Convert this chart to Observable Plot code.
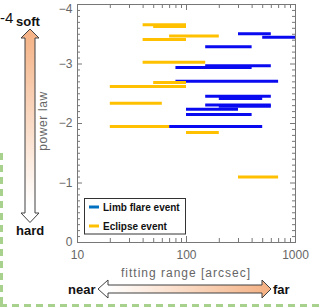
<!DOCTYPE html>
<html><head><meta charset="utf-8">
<script src="https://cdn.jsdelivr.net/npm/d3@7"></script>
<script src="https://cdn.jsdelivr.net/npm/@observablehq/plot@0.6"></script>
<style>html,body{margin:0;padding:0;background:#fff;}</style>
</head><body><div id="chart"></div>
<script>
// Limb flare events (blue)
const limbPower = [-3.51, -3.45, -3.29, -2.97, -2.94, -2.71, -2.46, -2.42, -2.31, -2.29, -2.24, -2.15, -1.95];
const limbFrom  = [300, 500, 150, 150, 80, 80, 150, 200, 150, 200, 100, 100, 70];
const limbTo    = [600, 1000, 400, 600, 400, 700, 600, 500, 600, 600, 300, 400, 500];
// Eclipse events (orange)
const eclipsePower = [-3.66, -3.63, -3.47, -3.41, -3.03, -2.69, -2.62, -2.34, -1.95, -1.85, -1.10];
const eclipseFrom  = [40, 50, 70, 40, 40, 50, 20, 20, 20, 100, 300];
const eclipseTo    = [100, 100, 200, 100, 150, 100, 100, 60, 70, 200, 700];
// ticks
const xTicks = [10, 100, 1000];
const xMinor = [20,30,40,50,60,70,80,90,200,300,400,500,600,700,800,900];
const yTicks = [0, -1, -2, -3, -4];
const yMinor = d3.range(-40, 1).map(i => i / 10).filter(v => !Number.isInteger(v));
const legendLabels = ["Limb flare event", "Eclipse event"];
const legendColors = ["#0070c0", "#ffc000"];

const limb = limbPower.map((p, i) => ({p, lo: limbFrom[i], hi: limbTo[i]}));
const eclipse = eclipsePower.map((p, i) => ({p, lo: eclipseFrom[i], hi: eclipseTo[i]}));

const W = 324, H = 307, mL = 77, mR = 29, mT = 4, mB = 65;
const iw = W - mL - mR, ih = H - mT - mB;
const tickC = "#777";
const fmtY = d => d === 0 ? "0" : "\u2212" + Math.abs(d);

const plot = Plot.plot({
  width: W, height: H, marginLeft: mL, marginRight: mR, marginTop: mT, marginBottom: mB,
  x: {type: "log", domain: [10, 1000]},
  y: {domain: [0, -4]},
  style: {fontFamily: "'Liberation Sans', Arial, sans-serif", fontSize: "12px", background: "#fff", overflow: "visible"},
  marks: [
    Plot.tickY(yTicks, {y: d => d, insetRight: iw - 5, stroke: tickC}),
    Plot.tickY(yMinor, {y: d => d, insetRight: iw - 3, stroke: tickC}),
    Plot.tickY(yTicks, {y: d => d, insetLeft: iw - 5, stroke: tickC}),
    Plot.tickY(yMinor, {y: d => d, insetLeft: iw - 3, stroke: tickC}),
    Plot.tickX(xTicks, {x: d => d, insetTop: ih - 6, stroke: tickC}),
    Plot.tickX(xMinor, {x: d => d, insetTop: ih - 4, stroke: tickC}),
    Plot.tickX(xTicks, {x: d => d, insetBottom: ih - 6, stroke: tickC}),
    Plot.tickX(xMinor, {x: d => d, insetBottom: ih - 4, stroke: tickC}),
    Plot.axisY({ticks: yTicks.filter(d => d > -4), tickSize: 0, tickPadding: 5, label: null, fill: "#666",
      tickFormat: fmtY}),
    Plot.axisY({ticks: [-4], tickSize: 0, tickPadding: 5, label: null, fill: "#666", dy: 5,
      tickFormat: fmtY}),
    Plot.axisX({ticks: xTicks, tickSize: 0, tickPadding: 8, label: null, fill: "#666",
      tickFormat: d => String(d)}),
    Plot.ruleY(limb, {y: "p", x1: "lo", x2: "hi", stroke: "#0a0af0", strokeWidth: 3}),
    Plot.ruleY(eclipse, {y: "p", x1: "lo", x2: "hi", stroke: "#ffc000", strokeWidth: 3}),
    Plot.frame({stroke: "#777"})
  ]
});

const svg = d3.select(plot);
const defs = svg.append("defs");
const gv = defs.append("linearGradient").attr("id", "gv").attr("gradientUnits", "userSpaceOnUse")
  .attr("x1", 0).attr("y1", 29).attr("x2", 0).attr("y2", 205);
gv.append("stop").attr("offset", 0).attr("stop-color", "#f4b183");
gv.append("stop").attr("offset", 1).attr("stop-color", "#ffffff");
const gh = defs.append("linearGradient").attr("id", "gh").attr("gradientUnits", "userSpaceOnUse")
  .attr("x1", 108).attr("y1", 0).attr("x2", 270).attr("y2", 0);
gh.append("stop").attr("offset", 0).attr("stop-color", "#ffffff");
gh.append("stop").attr("offset", 1).attr("stop-color", "#f4b183");

const txt = (x, y, t, opts = {}) => {
  const el = svg.append("text").attr("x", x).attr("y", y)
    .attr("text-anchor", opts.anchor || "start")
    .attr("font-size", opts.size || 12)
    .attr("font-weight", opts.weight || "normal")
    .attr("fill", opts.fill || "#111")
    .text(t);
  if (opts.ls) el.attr("letter-spacing", opts.ls);
  if (opts.transform) el.attr("transform", opts.transform).attr("x", 0).attr("y", 0);
  return el;
};

// axis titles
txt(186, 277, "fitting range [arcsec]", {anchor: "middle", fill: "#666", size: 12, ls: 1});
txt(0, 0, "power law", {anchor: "middle", fill: "#666", size: 12, ls: 0.6, transform: "translate(47,121) rotate(-90)"});

// legend
svg.append("rect").attr("x", 84.5).attr("y", 198.5).attr("width", 101).attr("height", 35.5)
  .attr("fill", "#fff").attr("stroke", "#333").attr("stroke-width", 1);
legendLabels.forEach((t, i) => {
  const yy = 207 + i * 19;
  svg.append("line").attr("x1", 89).attr("x2", 99).attr("y1", yy).attr("y2", yy)
    .attr("stroke", legendColors[i]).attr("stroke-width", 3);
  txt(103, yy + 3.5, t, {size: 10, weight: "bold"});
});

// arrows
svg.append("path").attr("d",
  "M30,29 L39,38 L35,38 L35,213 L39,213 L30,222.5 L21,213 L25,213 L25,38 L21,38 Z")
  .attr("fill", "url(#gv)").attr("stroke", "#404040").attr("stroke-width", 1);
svg.append("path").attr("d",
  "M98,289 L108,280 L108,285 L262,285 L262,280 L271,289 L262,298 L262,293 L108,293 L108,298 Z")
  .attr("fill", "url(#gh)").attr("stroke", "#404040").attr("stroke-width", 1);

txt(16, 26, "soft", {size: 13, weight: "bold"});
txt(16, 235, "hard", {size: 13, weight: "bold"});
txt(68, 293.5, "near", {size: 13, weight: "bold"});
txt(273, 293.5, "far", {size: 13, weight: "bold"});
txt(0, 23, "-4", {size: 15});

// green dashed border
svg.append("line").attr("x1", 1.5).attr("x2", 1.5).attr("y1", 153).attr("y2", 307)
  .attr("stroke", "#a9d18e").attr("stroke-width", 3).attr("stroke-dasharray", "7,5");
svg.append("line").attr("x1", 0).attr("x2", 324).attr("y1", 305.5).attr("y2", 305.5)
  .attr("stroke", "#a9d18e").attr("stroke-width", 3).attr("stroke-dasharray", "7,5");

document.getElementById("chart").appendChild(plot);
</script></body></html>
